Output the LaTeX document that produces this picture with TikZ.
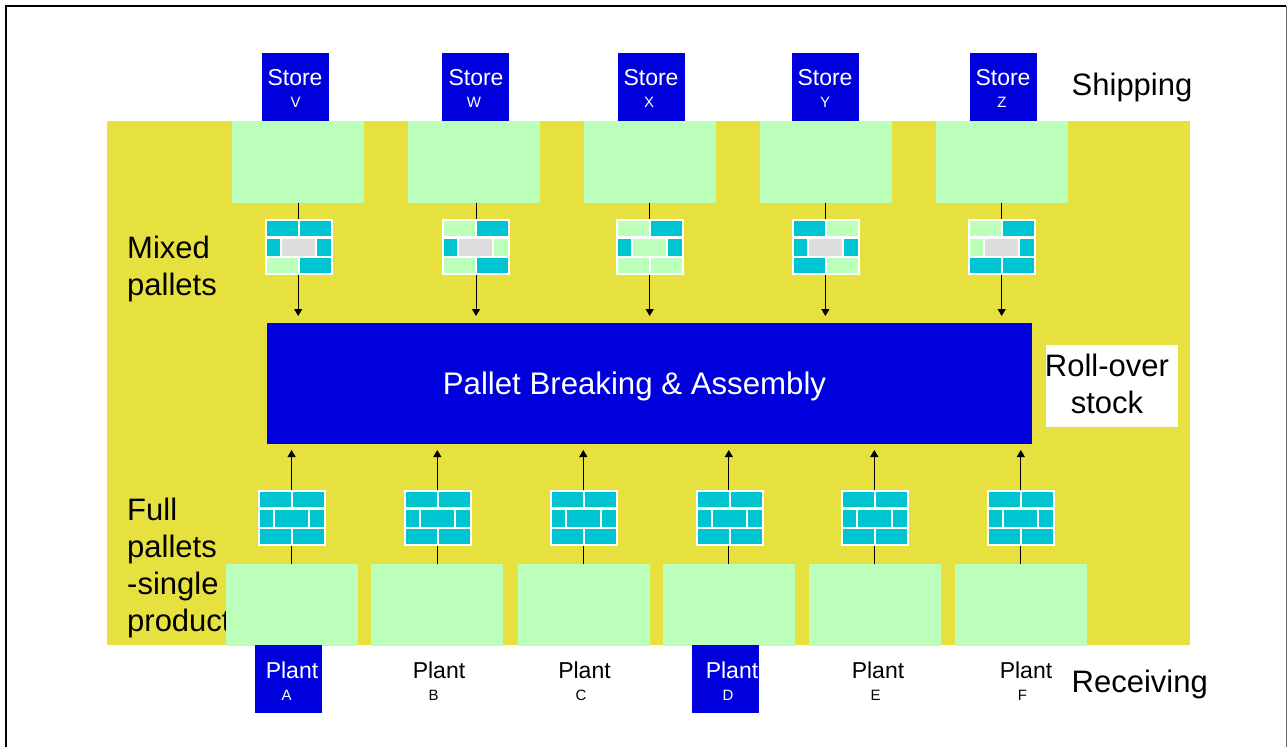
\documentclass[tikz,border=0pt]{standalone}
\usepackage{fontspec}
\setmainfont{Liberation Sans}
\usetikzlibrary{arrows.meta}
\definecolor{yel}{HTML}{E6E13E}
\definecolor{grn}{HTML}{BBFFBB}
\definecolor{blu}{HTML}{0000DC}
\definecolor{tea}{HTML}{00C4D0}
\definecolor{gry}{HTML}{DDDDDD}
\tikzset{
  x=1bp,y=-1bp,
  boxg/.style={fill=grn,draw=none,minimum width=132bp,minimum height=82bp,inner sep=0pt,outer sep=0pt},
  boxb/.style={fill=blu,draw=none,minimum width=67bp,minimum height=68bp,inner sep=0pt,outer sep=0pt},
  pal/.style={fill=white,draw=none,minimum width=67.5bp,minimum height=56.5bp,inner sep=0pt,outer sep=0pt},
  conn/.style={draw=black,line width=1bp},
  arr/.style={conn,-{Triangle[length=7bp,width=8bp]}},
  lab/.style={inner sep=0pt,font=\fontsize{31bp}{37bp}\selectfont,align=left,anchor=west},
  big/.style={inner sep=0pt,font=\fontsize{31bp}{37bp}\selectfont},
  mid/.style={inner sep=0pt,font=\fontsize{23bp}{27bp}\selectfont},
  sml/.style={inner sep=0pt,font=\fontsize{15bp}{18bp}\selectfont},
}
\newcommand{\pallet}[9]{%
  \node[pal] (#1) at (#2,#3) {};
  \fill[#4] (#2-32,#3-26) rectangle (#2-1.4,#3-11);
  \fill[#5] (#2+1,#3-26) rectangle (#2+32,#3-11);
  \fill[#6] (#2-32,#3-8.5) rectangle (#2-19.4,#3+8.5);
  \fill[#7] (#2-17.3,#3-8.5) rectangle (#2+15.6,#3+8.5);
  \fill[#8] (#2+17.8,#3-8.5) rectangle (#2+32,#3+8.5);
  \fill[#9] (#2-32,#3+11) rectangle (#2-1.4,#3+26.4);
  \palrest{#2}{#3}}
\newcommand{\palrest}[3]{\fill[#3] (#1+1,#2+11) rectangle (#1+32,#2+26.4);}
\begin{document}
\begin{tikzpicture}
\useasboundingbox (0,0) rectangle (1287,747);
\fill[white] (0,0) rectangle (1287,747);
\draw[black,line width=2bp] (6,747) -- (6,6) -- (1286,6);
\draw[black!60,line width=1bp] (1286,6) -- (1286,747);
\fill[yel] (107,121) rectangle (1190,645.3);

% Labels that the boxes cover
\node[lab] (mixed) at (127,268.5) {Mixed\\pallets};
\node[lab] (full) at (127,567.5) {Full\\pallets\\-single\\product};

% Top stores and shipping boxes
\foreach \n/\cx/\sx in {v/298/295.5,w/474/475.5,x/650/651,y/826/825,z/1002/1003}{
  \node[boxb] (s\n) at (\sx,87) {};
  \node[boxg] (t\n) at (\cx,162) {};
}
\node[mid,text=white] (ls1) at (295,78) {Store};
\node[mid,text=white] (ls2) at (476,78) {Store};
\node[mid,text=white] (ls3) at (651,78) {Store};
\node[mid,text=white] (ls4) at (825,78) {Store};
\node[mid,text=white] (ls5) at (1003,78) {Store};
\node[sml,text=white] (lv) at (295.5,102) {V};
\node[sml,text=white] (lw) at (474,102) {W};
\node[sml,text=white] (lx) at (649,102) {X};
\node[sml,text=white] (ly) at (825,102) {Y};
\node[sml,text=white] (lz) at (1002,102) {Z};

% Central block
\node[fill=blu,text=white,minimum width=765bp,minimum height=121bp,inner sep=0pt,font=\fontsize{31.2bp}{37bp}\selectfont,text depth=0pt] (pb) at (649.5,383.5) {\makebox[0pt]{\hspace*{-30bp}Pallet Breaking \& Assembly}};

% Mixed pallets
\pallet{mv}{299.2}{247}{tea}{tea}{tea}{gry}{tea}{grn}{tea}
\pallet{mw}{476}{247}{grn}{tea}{tea}{gry}{grn}{grn}{tea}
\pallet{mx}{650}{247}{grn}{tea}{tea}{grn}{tea}{grn}{grn}
\pallet{my}{826}{247}{tea}{grn}{tea}{gry}{tea}{tea}{grn}
\pallet{mz}{1002}{247}{grn}{tea}{grn}{gry}{tea}{tea}{tea}

% Full pallets
\foreach \n/\cx/\px in {a/292/292.2,b/437/438,c/583.5/584,d/729/730,e/875/875,f/1021/1021}{
  \pallet{f\n}{\px}{518}{tea}{tea}{tea}{tea}{tea}{tea}{tea}
  \node[boxg] (r\n) at (\cx,605) {};
}

% Connectors
\foreach \n/\ax in {v/298.2,w/476,x/649.7,y/825.4,z/1001.7}{
  \coordinate (a\n) at (\ax,316);
  \draw[conn] (a\n |- t\n.south) -- (a\n |- m\n.north);
  \draw[arr] (a\n |- m\n.south) -- (a\n);
}
\foreach \n/\ax in {a/291.6,b/437.3,c/583.3,d/728.8,e/874.3,f/1020.8}{
  \coordinate (u\n) at (\ax,450);
  \draw[conn] (u\n |- r\n.north) -- (u\n |- f\n.south);
  \draw[arr] (u\n |- f\n.north) -- (u\n);
}

% Plants
\node[boxb] (pa) at (288.5,679) {};
\node[boxb] (pd) at (725.5,679) {};
\node[mid,text=white] (pla) at (292,670.3) {Plant};
\node[mid,text=white] (pld) at (732,670.3) {Plant};
\node[mid] (plb) at (439,670.3) {Plant};
\node[mid] (plc) at (584.5,670.3) {Plant};
\node[mid] (ple) at (878,670.3) {Plant};
\node[mid] (plf) at (1026,670.3) {Plant};
\node[sml,text=white] (la) at (286.5,695) {A};
\node[sml] (lb) at (433.5,695) {B};
\node[sml] (lc) at (581,695) {C};
\node[sml,text=white] (ld) at (728,695) {D};
\node[sml] (le) at (875.5,695) {E};
\node[sml] (lf) at (1022.5,695) {F};

% Labels
\node[big,anchor=west] (ship) at (1071.5,87.5) {Shipping};
\node[big,anchor=west] (recv) at (1071.5,684) {Receiving};
\node[fill=white,minimum width=132bp,minimum height=82bp,inner sep=0pt] (rbg) at (1112,386) {};
\node[inner sep=0pt,font=\fontsize{31bp}{37bp}\selectfont,align=center] (roll) at (1107,384) {Roll-over\\stock};
\end{tikzpicture}
\end{document}
